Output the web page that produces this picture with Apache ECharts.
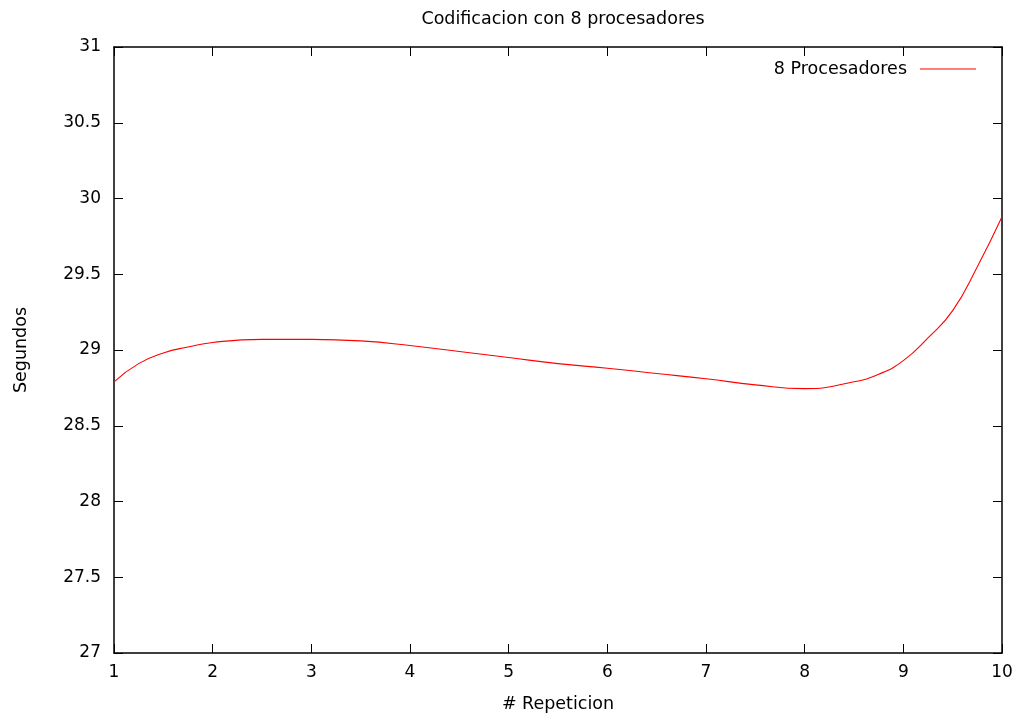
<!DOCTYPE html>
<html>
<head>
<meta charset="utf-8">
<script src="https://cdn.jsdelivr.net/npm/echarts@6/dist/echarts.min.js"></script>
<style>
  html, body { margin: 0; padding: 0; background: #fff; }
  #chart { width: 1021px; height: 719px; }
</style>
</head>
<body>
<div id="chart"></div>
<script>
// lecturas del grafico (repeticion, segundos)
const repeticion = [1, 1.25, 1.5, 1.75, 2, 2.5, 3, 3.5, 4, 4.5, 5, 5.5, 6, 6.5, 7, 7.5, 8, 8.5, 8.75, 9, 9.25, 9.5, 9.75, 10]
const segundos = [28.79, 28.91, 28.98, 29.02, 29.05, 29.07, 29.07, 29.06, 29.03, 28.99, 28.95, 28.91, 28.88, 28.845, 28.81, 28.77, 28.745, 28.79, 28.84, 28.93, 29.08, 29.26, 29.55, 29.88]
const xTicks = [1, 2, 3, 4, 5, 6, 7, 8, 9, 10]
const yTicks = [27, 27.5, 28, 28.5, 29, 29.5, 30, 30.5, 31]

const font = 'DejaVu Sans, sans-serif'
const chart = echarts.init(document.getElementById('chart'))

const tickStyle = { show: true, inside: true, length: 9, lineStyle: { color: '#000', width: 1 } }
const lineAxis = { show: true, lineStyle: { color: '#000', width: 1.5 } }

chart.setOption({
  animation: false,
  title: {
    text: 'Codificacion con 8 procesadores',
    left: 558,
    textAlign: 'center',
    top: 5,
    textStyle: { fontFamily: font, fontSize: 17.5, fontWeight: 'normal', color: '#000' }
  },
  legend: {
    right: 40,
    top: 55,
    align: 'right',
    itemWidth: 56,
    itemHeight: 10,
    itemGap: 0,
    textStyle: { fontFamily: font, fontSize: 17.5, color: '#000', padding: [0, 8, 0, 0] },
    data: [{ name: '8 Procesadores', icon: 'path://M0,0 L56,0 L56,1 L0,1 Z' }]
  },
  grid: { left: 114, right: 19, top: 47, bottom: 66 },
  xAxis: [{
    type: 'value',
    min: 1, max: 10, interval: 1,
    name: '# Repeticion',
    nameLocation: 'middle',
    nameGap: 42,
    nameTextStyle: { fontFamily: font, fontSize: 17.5, color: '#000' },
    axisLine: lineAxis,
    axisTick: tickStyle,
    splitLine: { show: false },
    axisLabel: { fontFamily: font, fontSize: 17, color: '#000', margin: 11,
      formatter: v => xTicks.includes(v) ? String(v) : '' }
  }, {
    type: 'value',
    position: 'top',
    min: 1, max: 10, interval: 1,
    axisLine: lineAxis,
    axisTick: tickStyle,
    splitLine: { show: false },
    axisLabel: { show: false }
  }],
  yAxis: [{
    type: 'value',
    min: 27, max: 31, interval: 0.5,
    name: 'Segundos',
    nameLocation: 'middle',
    nameGap: 84,
    nameRotate: 90,
    nameTextStyle: { fontFamily: font, fontSize: 17.5, color: '#000' },
    axisLine: lineAxis,
    axisTick: tickStyle,
    splitLine: { show: false },
    axisLabel: { fontFamily: font, fontSize: 17, color: '#000', margin: 13,
      formatter: v => yTicks.includes(v) ? String(v) : '' }
  }, {
    type: 'value',
    position: 'right',
    min: 27, max: 31, interval: 0.5,
    axisLine: lineAxis,
    axisTick: tickStyle,
    splitLine: { show: false },
    axisLabel: { show: false }
  }],
  series: [{
    name: '8 Procesadores',
    type: 'line',
    data: repeticion.map((x, i) => [x, segundos[i]]),
    smooth: 0.5,
    showSymbol: false,
    symbol: 'none',
    color: '#ff0000',
    lineStyle: { color: '#ff0000', width: 1.1 }
  }]
})
</script>
</body>
</html>
